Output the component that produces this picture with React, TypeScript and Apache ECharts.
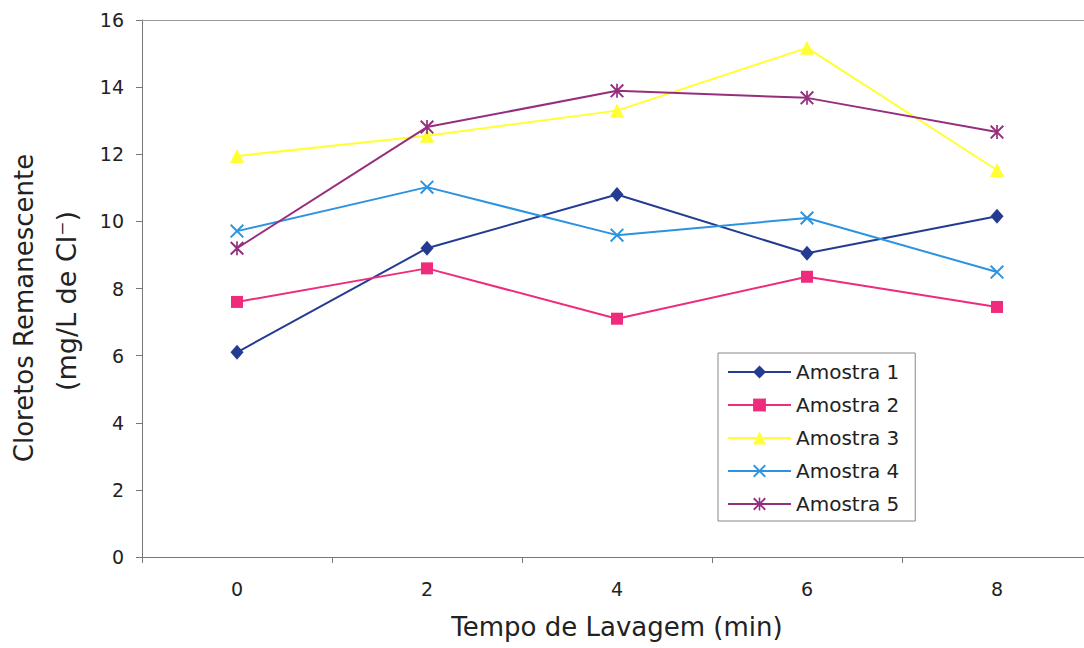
import React, { useEffect, useRef } from "react";
import * as echarts from "echarts";

const categories = ["0", "2", "4", "6", "8"];
const seriesNames = ["Amostra 1", "Amostra 2", "Amostra 3", "Amostra 4", "Amostra 5"];
const amostra1 = [6.1, 9.2, 10.8, 9.05, 10.15];
const amostra2 = [7.6, 8.6, 7.1, 8.35, 7.45];
const amostra3 = [11.95, 12.55, 13.3, 15.17, 11.53];
const amostra4 = [9.71, 11.02, 9.59, 10.1, 8.49];
const amostra5 = [9.2, 12.81, 13.89, 13.68, 12.66];
const yTicks = { min: 0, max: 16, interval: 2 };

const X_PATH = "path://M0,1L1,0L10,9L9,10ZM9,0L10,1L1,10L0,9Z";
const STAR_PATH = "path://M0,1L1,0L10,9L9,10ZM9,0L10,1L1,10L0,9ZM4.4,0L5.6,0L5.6,10L4.4,10Z";

export default function App() {
  const ref = useRef<HTMLDivElement>(null);
  useEffect(() => {
    document.body.style.margin = "0";
    const chart = echarts.init(ref.current!, null, { renderer: "svg" });
    const font = "DejaVu Sans";
    const colors = ["#233C91", "#EE2C7B", "#FFFF33", "#2C93E0", "#962E7E"];
    const symbols = ["diamond", "rect", "triangle", X_PATH, STAR_PATH];
    const sizes: any[] = [[13, 15], 12, 14, 14, 14];
    const datas = [amostra1, amostra2, amostra3, amostra4, amostra5];
    chart.setOption({
      animation: false,
      backgroundColor: "#ffffff",
      grid: {
        left: 142,
        top: 20,
        width: 950,
        height: 537,
        show: false,
        containLabel: false,
      },
      legend: {
        orient: "vertical",
        left: 718,
        top: 353,
        padding: [9, 16, 7, 9],
        itemGap: 13,
        itemWidth: 63,
        itemHeight: 16,
        borderColor: "#888",
        borderWidth: 1,
        backgroundColor: "#fff",
        textStyle: { fontFamily: font, fontSize: 20, lineHeight: 20, color: "#222" },
        data: seriesNames,
      },
      xAxis: [
        {
          type: "category",
          data: categories,
          boundaryGap: true,
          name: "Tempo de Lavagem (min)",
          nameLocation: "middle",
          nameGap: 57,
          nameTextStyle: { fontFamily: font, fontSize: 26, color: "#222" },
          axisLine: { lineStyle: { color: "#777", width: 1 } },
          axisTick: { show: true, length: 6, lineStyle: { color: "#777" } },
          axisLabel: { fontFamily: font, fontSize: 19, color: "#222", margin: 22 },
          splitLine: { show: false },
        },
        {
          type: "category",
          data: categories,
          position: "top",
          axisLine: { show: true, lineStyle: { color: "#999", width: 1 } },
          axisTick: { show: false },
          axisLabel: { show: false },
          splitLine: { show: false },
        },
      ],
      yAxis: {
        type: "value",
        min: yTicks.min,
        max: yTicks.max,
        interval: yTicks.interval,
        axisLine: { show: true, lineStyle: { color: "#777", width: 1 } },
        axisTick: { show: true, length: 6, lineStyle: { color: "#777" } },
        axisLabel: { fontFamily: font, fontSize: 19, color: "#222", margin: 18 },
        splitLine: { show: false },
      },
      graphic: [
        {
          type: "text",
          x: 24,
          y: 308,
          rotation: Math.PI / 2,
          style: {
            text: "Cloretos Remanescente",
            fontFamily: font,
            fontSize: 26,
            fill: "#222",
            align: "center",
            verticalAlign: "middle",
          },
        },
        {
          type: "text",
          x: 66,
          y: 301,
          rotation: Math.PI / 2,
          style: {
            text: "(mg/L de Cl\u207B)",
            fontFamily: font,
            fontSize: 27,
            fill: "#222",
            align: "center",
            verticalAlign: "middle",
          },
        },
      ],
      series: seriesNames.map((name, i) => ({
        name,
        type: "line",
        xAxisIndex: 0,
        data: datas[i],
        symbol: symbols[i],
        symbolSize: sizes[i],
        showSymbol: true,
        lineStyle: { color: colors[i], width: 2 },
        itemStyle: { color: colors[i], borderWidth: 0 },
        emphasis: { disabled: true },
      })),
    });
    return () => chart.dispose();
  }, []);
  return (
    <div style={{ width: 1084, height: 648, overflow: "hidden", position: "relative" }}>
      <div ref={ref} style={{ width: 1100, height: 648 }} />
    </div>
  );
}
